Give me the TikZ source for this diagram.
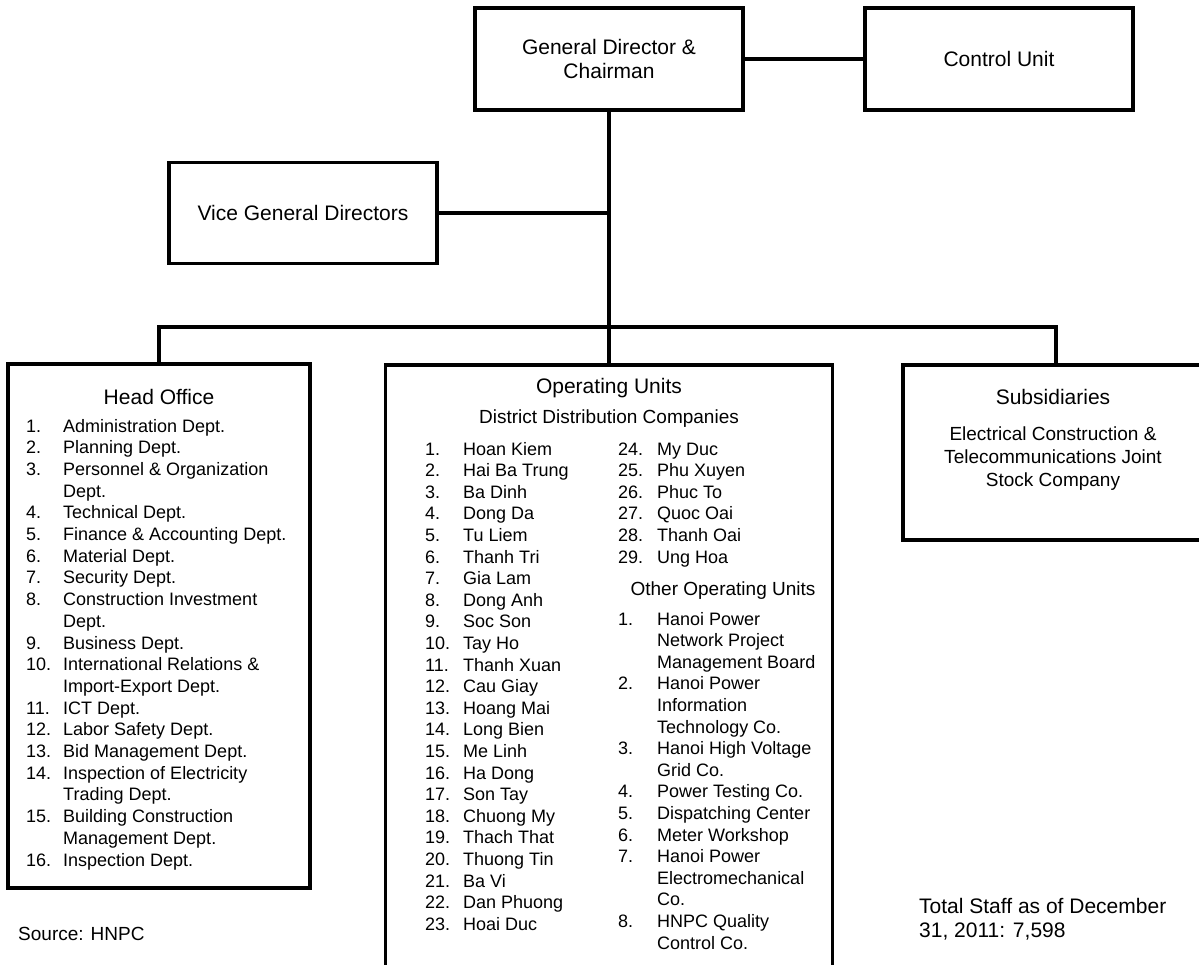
\documentclass[tikz,border=0pt]{standalone}
\usepackage{fontspec}
\setmainfont{Liberation Sans}
\usepackage{tikz}

\begin{document}
\begin{tikzpicture}[x=1pt, y=-1pt, unit/.style={draw, rectangle, line width=3.4pt, inner sep=0pt, align=center, font=\fontsize{21}{24.5}\selectfont}, link/.style={line width=4.3pt}, title/.style={anchor=base, inner sep=0pt, font=\fontsize{21}{24.5}\selectfont}, subtitle/.style={anchor=base, inner sep=0pt, font=\fontsize{19}{23}\selectfont}, item/.style={anchor=base west, inner sep=0pt, font=\fontsize{18}{21.7}\selectfont}]
	\path[use as bounding box, clip] (0,0) rectangle (1199,964);

	% Boxes

	\node [unit, minimum width=268, minimum height=102] (gd) at (609,59) {General Director \&\\Chairman};
	\node [unit, minimum width=268, minimum height=102] (cu) at (999,59) {Control Unit};
	\node [unit, minimum width=268, minimum height=101] (vgd) at (303,213) {Vice General Directors};
	\node [unit, minimum width=302, minimum height=524] (ho) at (159,626) {};
	\node [unit, minimum width=447, minimum height=603] (op) at (609,666.5) {};
	\node [unit, minimum width=306, minimum height=175] (sub) at (1056,452.5) {};
	\coordinate (bus) at (609,327);

	% Connectors

	\draw[link] (gd) -- (cu);
	\draw[link] (gd) -- (op);
	\draw[link] (vgd) -- (vgd -| gd);
	\draw[link] (ho) -- (ho |- bus) -- (sub |- bus) -- (sub);

	% Head Office

	\node [title] (ho-title) at (159,404) {Head Office};
	\foreach \nr/\lbl [count=\i from 0] in {1./Administration Dept., 2./Planning Dept., 3./Personnel \& Organization, /Dept., 4./Technical Dept., 5./Finance \& Accounting Dept., 6./Material Dept., 7./Security Dept., 8./Construction Investment, /Dept., 9./Business Dept., 10./International Relations \&, /Import-Export Dept., 11./ICT Dept., 12./Labor Safety Dept., 13./Bid Management Dept., 14./Inspection of Electricity, /Trading Dept., 15./Building Construction, /Management Dept., 16./Inspection Dept.}
	{
		\node [item] (ho-n\i) at (26,432+21.7*\i) {\nr};
		\node [item] (ho-t\i) at (63,432+21.7*\i) {\lbl};
	}

	% Operating Units

	\node [title] (op-title) at (609,393) {Operating Units};
	\node [subtitle] (op-ddc) at (609,423) {District Distribution Companies};
	\foreach \lbl [count=\i from 1] in {Hoan Kiem, Hai Ba Trung, Ba Dinh, Dong Da, Tu Liem, Thanh Tri, Gia Lam, Dong Anh, Soc Son, Tay Ho, Thanh Xuan, Cau Giay, Hoang Mai, Long Bien, Me Linh, Ha Dong, Son Tay, Chuong My, Thach That, Thuong Tin, Ba Vi, Dan Phuong, Hoai Duc}
	{
		\node [item] (dd-n\i) at (425,455+21.6*\i-21.6) {\i.};
		\node [item] (dd-t\i) at (463,455+21.6*\i-21.6) {\lbl};
	}
	\foreach \lbl [count=\i from 24] in {My Duc, Phu Xuyen, Phuc To, Quoc Oai, Thanh Oai, Ung Hoa}
	{
		\node [item] (dd-n\i) at (618,455+21.6*\i-518.4) {\i.};
		\node [item] (dd-t\i) at (657,455+21.6*\i-518.4) {\lbl};
	}
	\node [subtitle] (op-other) at (723,595) {Other Operating Units};
	\foreach \nr/\lbl [count=\i from 0] in {1./Hanoi Power, /Network Project, /Management Board, 2./Hanoi Power, /Information, /Technology Co., 3./Hanoi High Voltage, /Grid Co., 4./Power Testing Co., 5./Dispatching Center, 6./Meter Workshop, 7./Hanoi Power, /Electromechanical, /Co., 8./HNPC Quality, /Control Co.}
	{
		\node [item] (ou-n\i) at (618,625+21.6*\i) {\nr};
		\node [item] (ou-t\i) at (657,625+21.6*\i) {\lbl};
	}

	% Subsidiaries

	\node [title] (sub-title) at (1053,404) {Subsidiaries};
	\foreach \lbl [count=\i from 0] in {Electrical Construction \&, Telecommunications Joint, Stock Company}
		\node [subtitle] (sub-t\i) at (1053,440+23*\i) {\lbl};

	% Notes

	\node [item, font=\fontsize{19}{23}\selectfont] (src) at (18,940) {Source: HNPC};
	\node [item, font=\fontsize{21}{25}\selectfont] (staff-a) at (919,913) {Total Staff as of December};
	\node [item, font=\fontsize{21}{25}\selectfont] (staff-b) at (919,937) {31, 2011: 7,598};
\end{tikzpicture}
\end{document}
